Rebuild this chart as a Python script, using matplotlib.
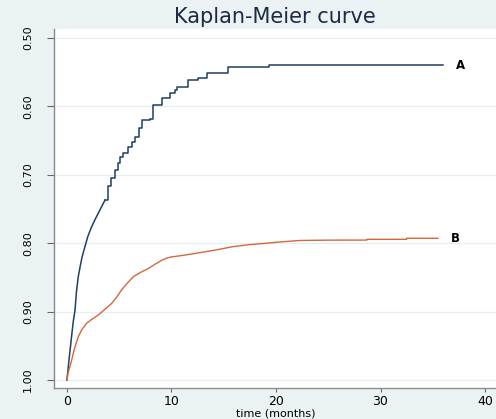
import numpy as np
import matplotlib
matplotlib.use("Agg")
import matplotlib.pyplot as plt

plt.rcParams['font.family'] = ['DejaVu Sans']

# Kaplan-Meier curves (repeated times mark visible steps)
time_a = [0, 0.1, 0.2, 0.3, 0.45, 0.6, 0.77, 0.9, 1.08, 1.25, 1.45, 1.72, 2.0,
          2.36, 2.7, 3.0, 3.3, 3.64, 3.96, 4.25, 4.59, 4.85, 5.07, 5.4, 5.87,
          6.2, 6.5, 6.85, 7.2, 7.9, 8.2, 8.9, 9.06, 9.8, 9.86, 10.3, 10.5,
          11.5, 11.6, 12.4, 12.5, 13.3, 13.4, 15.4, 15.4, 19.3, 19.3, 36.0]
surv_a = [1.0, 0.985, 0.97, 0.956, 0.935, 0.915, 0.898, 0.872, 0.849, 0.835,
          0.82, 0.805, 0.79, 0.776, 0.765, 0.756, 0.747, 0.737, 0.717, 0.705,
          0.693, 0.683, 0.674, 0.668, 0.659, 0.652, 0.644, 0.632, 0.62, 0.618,
          0.598, 0.598, 0.588, 0.588, 0.581, 0.576, 0.572, 0.572, 0.561,
          0.561, 0.558, 0.558, 0.551, 0.551, 0.543, 0.543, 0.5395, 0.5395]

time_b = [0, 0.1, 0.25, 0.45, 0.7, 1.08, 1.4, 1.88, 2.4, 3.0, 3.6, 4.28, 4.8,
          5.23, 5.8, 6.35, 7.0, 7.78, 8.4, 9.06, 9.5, 10.0, 11.0, 12.25, 13.0,
          14.2, 15.9, 17.5, 19.1, 20.5, 22.3, 25.0, 28.7, 28.7, 32.5, 32.5,
          35.5]
surv_b = [1.0, 0.99, 0.982, 0.971, 0.955, 0.937, 0.927, 0.917, 0.911, 0.905,
          0.897, 0.888, 0.878, 0.868, 0.858, 0.849, 0.843, 0.837, 0.831, 0.825,
          0.822, 0.82, 0.818, 0.815, 0.813, 0.81, 0.805, 0.802, 0.80, 0.798,
          0.796, 0.7955, 0.7954, 0.7943, 0.7943, 0.7928, 0.7928]

x_ticks = [0, 10, 20, 30, 40]
y_ticks = [0.50, 0.60, 0.70, 0.80, 0.90, 1.00]

fig = plt.figure(figsize=(4.96, 4.19), dpi=100, facecolor='#eaf2f3')
ax = fig.add_axes([54 / 496, 1 - 388 / 419, 442 / 496, 359 / 419])
ax.set_facecolor('white')

# dense early part of A drawn as a line, later part as visible stairs
k = 17
ax.plot(time_a[:k + 1], surv_a[:k + 1], color='#1f3f63', lw=1.1)
ax.plot(time_a[k:], surv_a[k:], drawstyle='steps-post', color='#1f3f63', lw=1.1)
ax.plot(time_b, surv_b, color='#d4683a', lw=1.0)

ax.text(time_a[-1] + 1.2, surv_a[-1], 'A', fontsize=8.5, fontweight='bold',
        va='center', ha='left')
ax.text(time_b[-1] + 1.2, surv_b[-1], 'B', fontsize=8.5, fontweight='bold',
        va='center', ha='left')

ax.set_xlim(-1.24, 41.05)
ax.set_ylim(1.0117, 0.4868)
ax.set_xticks(x_ticks)
ax.set_yticks(y_ticks)
ax.set_yticklabels([f"{v:.2f}" for v in y_ticks], rotation=90, va='center')

ax.grid(axis='y', color='#e6eef0', lw=0.9)
ax.set_axisbelow(True)
for s in ['top', 'right']:
    ax.spines[s].set_visible(False)
for s in ['left', 'bottom']:
    ax.spines[s].set_color('#8a8a8a')
    ax.spines[s].set_linewidth(1.0)

ax.tick_params(axis='y', length=5, pad=10, labelsize=8, color='#666666')
ax.tick_params(axis='x', length=3, pad=2, labelsize=9, color='#666666')

fig.text(276 / 496, 1 - 413 / 419, 'time (months)', fontsize=8,
         ha='center', va='center')
fig.text(0.555, 1 - 17 / 419, 'Kaplan-Meier curve', fontsize=15,
         color='#1c2a44', ha='center', va='center')

fig.savefig('out.png', dpi=100, facecolor=fig.get_facecolor())
